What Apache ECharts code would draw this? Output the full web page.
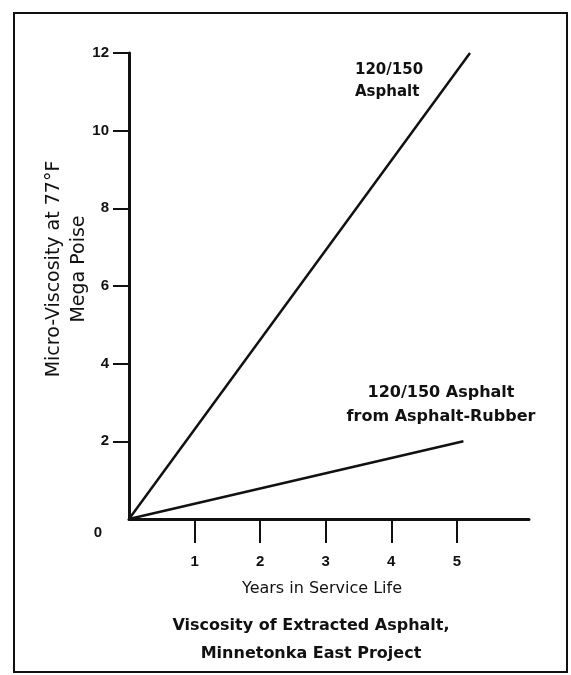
<!DOCTYPE html>
<html>
<head>
<meta charset="utf-8">
<script src="https://cdn.jsdelivr.net/npm/echarts@6/dist/echarts.min.js"></script>
<style>
  html, body { margin: 0; padding: 0; background: #fff; }
  #chart { width: 571px; height: 675px; }
</style>
</head>
<body>
<div id="chart"></div>
<script>
// years in service vs micro-viscosity (mega poise)
var asphaltYears = [0, 5.2];
var asphaltVisc = [0, 12];
var rubberYears = [0, 5.1];
var rubberVisc = [0, 2];
var xTicks = [1, 2, 3, 4, 5];
var yTicks = [2, 4, 6, 8, 10, 12];
var yLabels = [0, 2, 4, 6, 8, 10, 12];

var chart = echarts.init(document.getElementById('chart'));
var font = '"Liberation Sans", Arial, sans-serif';
var wide = '"DejaVu Sans", Verdana, sans-serif';

function pairs(xs, ys) {
  var out = [];
  for (var i = 0; i < xs.length; i++) {
    out.push([xs[i], ys[i]]);
  }
  return out;
}

var option = {
  animation: false,
  backgroundColor: '#fff',
  textStyle: { fontFamily: font, color: '#111' },
  title: {
    text: 'Viscosity of Extracted Asphalt,\nMinnetonka East Project',
    left: 306,
    top: 607,
    textAlign: 'center',
    textStyle: { fontFamily: wide, fontSize: 16, fontWeight: 'bold', color: '#111', lineHeight: 28 }
  },
  grid: { left: 129, top: 53, width: 400, height: 466 },
  xAxis: {
    type: 'value',
    min: 0,
    max: 6.1,
    name: 'Years in Service Life',
    nameLocation: 'middle',
    nameGap: 62,
    nameMoveOverlap: false,
    nameTextStyle: { fontFamily: wide, fontSize: 16, color: '#111', padding: [0, 14, 0, 0] },
    splitLine: { show: false },
    axisLine: { lineStyle: { color: '#111', width: 3 } },
    axisTick: { show: true, inside: false, length: 24, customValues: xTicks, lineStyle: { color: '#111', width: 2 } },
    axisLabel: { customValues: xTicks, margin: 35, fontSize: 15, fontWeight: 'bold', color: '#111', fontFamily: font }
  },
  yAxis: {
    type: 'value',
    min: 0,
    max: 12,
    name: 'Micro-Viscosity at 77°F\nMega Poise',
    nameLocation: 'middle',
    nameRotate: 90,
    nameGap: 37,
    nameMoveOverlap: false,
    nameTextStyle: { fontFamily: wide, fontSize: 19, color: '#111', lineHeight: 25, padding: [0, 0, 0, 34] },
    splitLine: { show: false },
    axisLine: { lineStyle: { color: '#111', width: 3 } },
    axisTick: { show: true, inside: false, length: 16, customValues: yTicks, lineStyle: { color: '#111', width: 2 } },
    axisLabel: {
      customValues: yLabels,
      margin: 20,
      fontSize: 15,
      fontWeight: 'bold',
      color: '#111',
      fontFamily: font,
      formatter: function (v) {
        return v === 0 ? '{z|0}' : String(v);
      },
      rich: {
        z: { fontSize: 15, fontWeight: 'bold', color: '#111', fontFamily: font, padding: [28, 7, 0, 0] }
      }
    }
  },
  graphic: [
    {
      type: 'rect',
      shape: { x: 14, y: 13, width: 553, height: 659 },
      style: { fill: 'none', stroke: '#111', lineWidth: 2 },
      z: 0
    },
    {
      type: 'text',
      left: 355,
      top: 59,
      style: {
        text: '120/150\nAsphalt',
        font: 'bold 15px ' + wide,
        fill: '#111',
        lineHeight: 22,
        textAlign: 'left'
      }
    },
    {
      type: 'text',
      x: 441,
      y: 381,
      style: {
        text: '120/150 Asphalt\nfrom Asphalt-Rubber',
        font: 'bold 16px ' + wide,
        fill: '#111',
        lineHeight: 24,
        textAlign: 'center'
      }
    }
  ],
  series: [
    {
      name: '120/150 Asphalt',
      type: 'line',
      data: pairs(asphaltYears, asphaltVisc),
      showSymbol: false,
      lineStyle: { color: '#111', width: 2.5 }
    },
    {
      name: '120/150 Asphalt from Asphalt-Rubber',
      type: 'line',
      data: pairs(rubberYears, rubberVisc),
      showSymbol: false,
      lineStyle: { color: '#111', width: 2.5 }
    }
  ]
};

chart.setOption(option);
window.addEventListener('resize', function () {
  chart.resize();
});
</script>
</body>
</html>
